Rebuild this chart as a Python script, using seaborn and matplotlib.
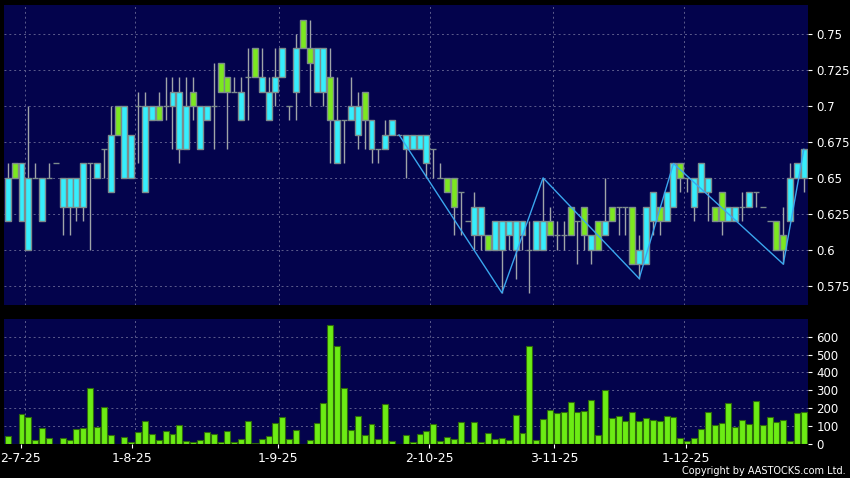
import matplotlib
matplotlib.use("Agg")
import matplotlib.pyplot as plt
import seaborn as sns
import numpy as np
import pandas as pd

# ---------------- data ----------------
opens = [0.62, 0.66, 0.62, 0.60, 0.65, 0.62, 0.65, 0.66, 0.63, 0.63,
         0.63, 0.63, 0.66, 0.65, 0.67, 0.64, 0.70, 0.65, 0.65, 0.70,
         0.64, 0.69, 0.70, 0.70, 0.70, 0.67, 0.67, 0.71, 0.67, 0.69,
         0.70, 0.73, 0.72, 0.71, 0.69, 0.72, 0.74, 0.71, 0.69, 0.71,
         0.72, 0.70, 0.71, 0.76, 0.74, 0.71, 0.71, 0.72, 0.66, 0.69,
         0.69, 0.68, 0.71, 0.67, 0.67, 0.67, 0.68, 0.68, 0.67, 0.67,
         0.67, 0.66, 0.67, 0.65, 0.65, 0.65, 0.64, 0.62, 0.61, 0.61,
         0.61, 0.60, 0.60, 0.61, 0.60, 0.61, 0.60, 0.60, 0.60, 0.62,
         0.61, 0.61, 0.63, 0.62, 0.63, 0.60, 0.62, 0.61, 0.63, 0.63,
         0.63, 0.63, 0.59, 0.59, 0.62, 0.63, 0.62, 0.63, 0.66, 0.65,
         0.63, 0.64, 0.64, 0.63, 0.64, 0.62, 0.62, 0.63, 0.63, 0.64,
         0.63, 0.62, 0.62, 0.61, 0.62, 0.65, 0.65]
closes = [0.65, 0.65, 0.66, 0.65, 0.65, 0.65, 0.65, 0.66, 0.65, 0.65,
          0.65, 0.66, 0.66, 0.66, 0.67, 0.68, 0.68, 0.70, 0.68, 0.70,
          0.70, 0.70, 0.69, 0.70, 0.71, 0.71, 0.70, 0.70, 0.70, 0.70,
          0.70, 0.71, 0.71, 0.71, 0.71, 0.72, 0.72, 0.72, 0.71, 0.72,
          0.74, 0.70, 0.74, 0.74, 0.73, 0.74, 0.74, 0.69, 0.69, 0.69,
          0.70, 0.70, 0.69, 0.69, 0.67, 0.68, 0.69, 0.68, 0.68, 0.68,
          0.68, 0.68, 0.67, 0.65, 0.64, 0.63, 0.64, 0.62, 0.63, 0.63,
          0.60, 0.62, 0.62, 0.62, 0.62, 0.62, 0.60, 0.62, 0.62, 0.61,
          0.61, 0.61, 0.61, 0.62, 0.61, 0.61, 0.60, 0.62, 0.62, 0.63,
          0.63, 0.59, 0.60, 0.63, 0.64, 0.62, 0.64, 0.66, 0.65, 0.65,
          0.65, 0.66, 0.65, 0.62, 0.62, 0.63, 0.63, 0.63, 0.64, 0.64,
          0.63, 0.62, 0.60, 0.60, 0.65, 0.66, 0.67]
highs = [0.66, 0.66, 0.66, 0.70, 0.66, 0.65, 0.66, 0.66, 0.65, 0.65,
         0.65, 0.66, 0.66, 0.66, 0.67, 0.70, 0.70, 0.70, 0.68, 0.71,
         0.71, 0.70, 0.71, 0.72, 0.72, 0.72, 0.72, 0.72, 0.70, 0.70,
         0.73, 0.73, 0.72, 0.72, 0.72, 0.74, 0.74, 0.74, 0.72, 0.74,
         0.74, 0.70, 0.75, 0.76, 0.76, 0.74, 0.74, 0.74, 0.72, 0.69,
         0.72, 0.71, 0.71, 0.69, 0.67, 0.69, 0.69, 0.68, 0.68, 0.68,
         0.68, 0.68, 0.67, 0.66, 0.65, 0.65, 0.64, 0.62, 0.64, 0.63,
         0.61, 0.62, 0.62, 0.62, 0.62, 0.62, 0.62, 0.62, 0.65, 0.63,
         0.62, 0.62, 0.63, 0.62, 0.63, 0.61, 0.62, 0.65, 0.63, 0.63,
         0.63, 0.63, 0.61, 0.63, 0.64, 0.63, 0.64, 0.66, 0.66, 0.65,
         0.65, 0.66, 0.65, 0.63, 0.64, 0.63, 0.63, 0.64, 0.64, 0.64,
         0.63, 0.62, 0.62, 0.63, 0.66, 0.66, 0.67]
lows = [0.62, 0.65, 0.62, 0.60, 0.65, 0.62, 0.65, 0.66, 0.61, 0.61,
        0.62, 0.62, 0.60, 0.65, 0.65, 0.64, 0.68, 0.65, 0.65, 0.66,
        0.64, 0.69, 0.69, 0.69, 0.67, 0.66, 0.67, 0.69, 0.67, 0.69,
        0.67, 0.71, 0.67, 0.71, 0.69, 0.69, 0.72, 0.71, 0.69, 0.70,
        0.72, 0.69, 0.69, 0.74, 0.70, 0.71, 0.70, 0.66, 0.66, 0.66,
        0.69, 0.67, 0.67, 0.66, 0.66, 0.67, 0.68, 0.68, 0.65, 0.67,
        0.67, 0.65, 0.65, 0.65, 0.64, 0.61, 0.61, 0.62, 0.60, 0.60,
        0.60, 0.60, 0.57, 0.60, 0.58, 0.60, 0.57, 0.60, 0.60, 0.61,
        0.60, 0.60, 0.61, 0.59, 0.60, 0.59, 0.60, 0.61, 0.62, 0.61,
        0.61, 0.59, 0.58, 0.59, 0.61, 0.61, 0.62, 0.63, 0.64, 0.64,
        0.62, 0.64, 0.62, 0.62, 0.61, 0.62, 0.62, 0.62, 0.63, 0.63,
        0.63, 0.62, 0.60, 0.59, 0.62, 0.65, 0.64]
volumes = [45, 0, 164, 148, 20, 88, 30, 0, 32, 22,
           80, 86, 312, 92, 206, 47, 0, 37, 11, 65,
           127, 54, 19, 71, 56, 103, 15, 11, 22, 65,
           54, 7, 71, 11, 26, 129, 4, 26, 41, 116,
           151, 24, 75, 0, 22, 116, 228, 665, 546, 310,
           77, 153, 49, 112, 26, 222, 13, 0, 50, 7,
           54, 71, 108, 17, 36, 26, 120, 11, 123, 11,
           58, 24, 32, 22, 161, 58, 550, 19, 140, 187,
           174, 178, 232, 179, 183, 243, 50, 299, 144, 155,
           125, 178, 129, 142, 135, 129, 155, 151, 32, 13,
           34, 82, 178, 103, 116, 226, 93, 131, 108, 241,
           105, 151, 120, 133, 15, 172, 176]

# zigzag indicator turning points (trading-day index, price)
zz_index = [57, 72, 78, 92, 97, 113, 116]
zz_price = [0.68, 0.57, 0.65, 0.58, 0.66, 0.59, 0.67]

# date labels, the trading-day index where each label sits,
# and the month-boundary index where its grid line sits
date_labels = ["2-7-25", "1-8-25", "1-9-25", "2-10-25", "3-11-25", "1-12-25"]
date_index = [1.9, 18.1, 39.4, 61.4, 79.6, 98.8]
month_edge = [2.5, 18.5, 39.5, 61.5, 79.5, 98.5]

price_ticks = [0.575, 0.6, 0.625, 0.65, 0.675, 0.7, 0.725, 0.75]
price_tick_labels = ["0.575", "0.6", "0.625", "0.65", "0.675", "0.7", "0.725", "0.75"]
vol_ticks = [0, 100, 200, 300, 400, 500, 600]

# ---------------- styling ----------------
BG = "#000000"
PANEL = "#03034c"
GRID = "#5c5c8c"
CYAN = "#36eefc"
GREEN = "#7ce820"
BODY_EDGE = "#7d8c8c"
WICK = "#a0a4a8"
VOL_FACE = "#6cec14"
VOL_EDGE = "#2e6a0c"
ZZ = "#3aa6ee"

sns.set_style("dark")
plt.rcParams["font.family"] = ["DejaVu Sans"]

df = pd.DataFrame({"idx": np.arange(len(opens)), "open": opens, "high": highs,
                   "low": lows, "close": closes, "volume": volumes})
df["bottom"] = df[["open", "close"]].min(axis=1)
df["height"] = (df["close"] - df["open"]).abs()
df["color"] = np.where(df["close"] > df["open"], CYAN,
                       np.where(df["close"] < df["open"], GREEN, BODY_EDGE))

fig = plt.figure(figsize=(8.5, 4.78), dpi=100, facecolor=BG)
W, H = 850.0, 478.0
ax = fig.add_axes([4 / W, 1 - 305 / H, 804 / W, 300 / H])
axv = fig.add_axes([4 / W, 1 - 443.7 / H, 804 / W, 124.7 / H])

xlim = (-0.55, 116.6)

for a in (ax, axv):
    a.set_facecolor(PANEL)
    for s in a.spines.values():
        s.set_visible(False)
    a.set_xlim(*xlim)
    a.grid(False)

# grids
for xv in month_edge:
    ax.axvline(xv, color=GRID, lw=0.7, dashes=(2, 3), zorder=0.5)
    axv.axvline(xv, color=GRID, lw=0.7, dashes=(2, 3), zorder=0.5)
for yv in price_ticks:
    ax.axhline(yv, color=GRID, lw=0.7, dashes=(2, 3), zorder=0.5)
for yv in vol_ticks[1:]:
    axv.axhline(yv, color=GRID, lw=0.7, dashes=(2, 3), zorder=0.5)

# ---------------- price panel ----------------
ax.vlines(df["idx"], df["low"], df["high"], color=WICK, lw=1.0, zorder=1)
ax.bar(df["idx"], df["height"], bottom=df["bottom"], width=0.87,
       color=df["color"], edgecolor=BODY_EDGE, linewidth=1.0, zorder=2)
sns.lineplot(x=zz_index, y=zz_price, ax=ax, color=ZZ, lw=1.0, zorder=3,
             sort=False, legend=False)

ax.set_ylim(0.5616, 0.7702)
ax.set_xlim(*xlim)
ax.yaxis.tick_right()
ax.set_yticks(price_ticks)
ax.set_yticklabels(price_tick_labels)
ax.tick_params(axis="y", colors="white", labelcolor="white", labelsize=8.5,
               length=3, width=0.8, pad=3, direction="out", right=True, left=False)
ax.set_xticks([])
ax.set_xlabel("")
ax.set_ylabel("")

# ---------------- volume panel ----------------
sns.barplot(x=df["idx"], y=df["volume"], ax=axv, native_scale=True, orient="x",
            width=0.87, color=VOL_FACE, saturation=1, edgecolor=VOL_EDGE,
            linewidth=0.8, errorbar=None, zorder=2)
axv.set_ylim(0, 700)
axv.set_xlim(*xlim)
axv.yaxis.tick_right()
axv.set_yticks(vol_ticks)
axv.set_yticklabels([str(v) for v in vol_ticks])
axv.tick_params(axis="y", colors="white", labelcolor="white", labelsize=8.5,
                length=3, width=0.8, pad=3, right=True, left=False)
axv.set_xticks(date_index)
axv.set_xticklabels(date_labels)
axv.tick_params(axis="x", colors="white", labelcolor="white", labelsize=9,
                length=3, width=0.8, pad=3, bottom=True)
axv.set_xlabel("")
axv.set_ylabel("")

fig.text(846 / W, 1 - 471 / H, "Copyright by AASTOCKS.com Ltd.", color="white",
         fontsize=7, ha="right", va="center")

fig.savefig("out.png", dpi=100, facecolor=BG)
